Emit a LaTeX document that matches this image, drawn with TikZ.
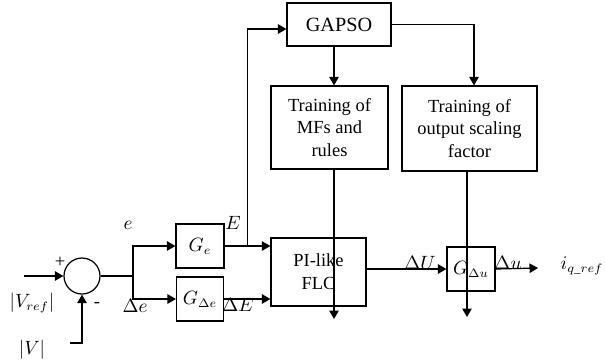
\documentclass[tikz,border=0pt]{standalone}
\usepackage{fontspec}
\setmainfont{Liberation Serif}
\usepackage{amsmath}
\usetikzlibrary{arrows.meta, positioning, calc}

\begin{document}
\begin{tikzpicture}[
  x=0.02cm, y=-0.02cm,
  every node/.style={font=\fontsize{10.5}{13}\selectfont, align=center},
  box/.style={draw, line width=0.7pt, inner sep=1pt},
  sumnode/.style={draw, line width=0.7pt, circle, minimum size=0.72cm, inner sep=0pt},
  arr/.style={-{Triangle[length=1.7mm, width=1.9mm]}, line width=0.7pt},
  ln/.style={line width=0.7pt},
  lbl/.style={inner sep=1pt},
]
  \useasboundingbox (0,0) rectangle (605,360);

  \node[sumnode] (sum)   at (82, 276)    {};
  \node[box, minimum width=0.96cm, minimum height=0.88cm] (ge)    at (200, 246)   {$G_e$};
  \node[box, minimum width=0.94cm, minimum height=0.88cm] (gde)   at (200, 299)   {$G_{\Delta e}$};
  \node[box, minimum width=1.9cm, minimum height=1.36cm]  (flc)   at (318.5, 272) {PI-like\\FLC};
  \node[box, minimum width=2.08cm, minimum height=0.86cm] (gapso) at (339, 24.5)  {\fontsize{11.5}{13}\selectfont GAPSO};
  \node[box, minimum width=2.34cm, minimum height=1.66cm] (trmf)  at (329.5, 127.5) {Training of\\MFs and\\rules};
  \node[box, minimum width=2.7cm, minimum height=1.7cm]   (trout) at (469.5, 128.5) {Training of\\output scaling\\factor};
  \node[box, minimum width=0.96cm, minimum height=0.88cm] (gdu)   at (471, 269)   {$G_{\Delta u}$};
  \node (iq) at (582, 266) {$i_{q\_ref}$};

  \coordinate (vin)    at (24, 276);
  \coordinate (vfb)    at (70, 343);
  \coordinate (split)  at (133, 276);
  \coordinate (mfend)  at (334, 319);
  \coordinate (sfend)  at (467, 317);
  \coordinate (uout)   at (538, 268);
  \coordinate (tapE)   at ($(ge.east)!0.5!(ge.east -| flc.west)$);

  % summing junction
  \draw[arr] (vin) -- (sum.west);
  \draw[arr] (vfb) -| (sum.south);
  \node[lbl] (plus)  at (60, 262) {+};
  \node[lbl] (minus) at (97, 305) {-};
  \node[lbl] (vref)  at (32, 303) {$\left|V_{ref}\right|$};
  \node[lbl] (vmeas) at (32, 350) {$|V|$};

  % error and change of error
  \draw[ln] (sum.east) -- (split);
  \draw[arr] (split) |- (ge.west);
  \draw[arr] (split) |- (gde.west);
  \node[lbl] (le)  at (128, 225) {$e$};
  \node[lbl] (lde) at (135, 306) {$\Delta e$};

  \draw[arr] (ge.east) -- (ge.east -| flc.west);
  \draw[arr] (gde.east) -- (gde.east -| flc.west);
  \node[lbl] (lE)  at (233, 223) {$E$};
  \node[lbl] (ldE) at (238, 305) {$\Delta E$};

  % optimiser loop
  \draw[arr] (tapE) |- ([yshift=-0.09cm]gapso.west);
  \draw[arr] (gapso.south -| mfend) -- (trmf.north -| mfend);
  \draw[arr] (gapso.east) -| ([xshift=0.09cm]trout.north);
  \draw[arr] (trmf.south -| mfend) -- (mfend);
  \draw[arr] (trout.south -| sfend) -- (sfend);

  % output
  \draw[arr] (flc.east |- gdu.west) -- (gdu.west);
  \draw[arr] (gdu.east) -- (uout);
  \node[lbl] (ldU) at (420, 263) {$\Delta U$};
  \node[lbl] (ldu) at (508, 263) {$\Delta u$};
\end{tikzpicture}
\end{document}
